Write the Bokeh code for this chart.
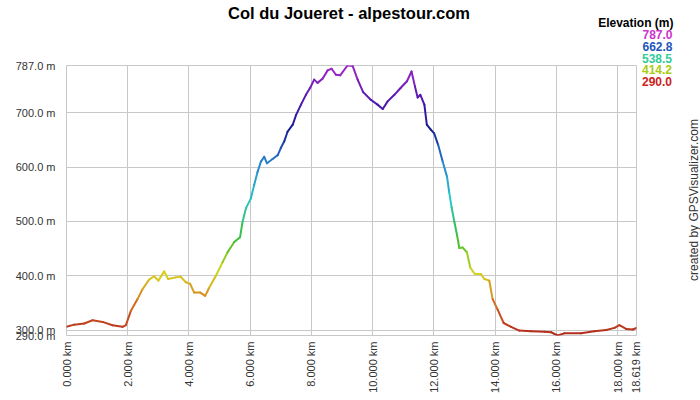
import numpy as np
from bokeh.plotting import figure
from bokeh.layouts import column, row
from bokeh.models import FixedTicker, Label, Range1d, Div
from bokeh.embed import file_html
from bokeh.resources import INLINE

# ---- data ----
distance_km = [0.00, 0.25, 0.58, 0.85, 1.18, 1.50, 1.83, 1.94, 2.10, 2.32,
               2.48, 2.70, 2.86, 3.00, 3.19, 3.32, 3.57, 3.73, 3.90, 4.04,
               4.17, 4.37, 4.53, 4.66, 4.88, 5.10, 5.26, 5.48, 5.67, 5.75,
               5.86, 6.02, 6.13, 6.24, 6.35, 6.46, 6.55, 6.73, 6.90, 7.00,
               7.11, 7.22, 7.39, 7.50, 7.66, 7.82, 7.96, 8.09, 8.20, 8.37,
               8.53, 8.66, 8.80, 8.94, 9.18, 9.35, 9.51, 9.69, 9.94, 10.16,
               10.33, 10.49, 10.71, 10.92, 11.12, 11.27, 11.38, 11.47, 11.56, 11.69,
               11.77, 11.90, 12.01, 12.14, 12.29, 12.43, 12.50, 12.58, 12.67, 12.76,
               12.83, 12.94, 13.08, 13.19, 13.34, 13.54, 13.65, 13.81, 13.92, 14.08,
               14.28, 14.52, 14.79, 15.17, 15.61, 15.83, 16.04, 16.26, 16.81, 17.24,
               17.63, 17.90, 18.06, 18.28, 18.50, 18.619]
elevation_m = [306, 310, 312, 318, 315, 309, 306, 309, 335, 357,
               375, 393, 399, 391, 408, 394, 397, 398, 388, 385,
               369, 369, 363, 378, 400, 425, 443, 462, 471, 499,
               524, 542, 567, 591, 610, 619, 607, 615, 622, 635,
               647, 665, 678, 696, 715, 733, 746, 761, 755, 763,
               778, 781, 770, 769, 787, 786, 761, 738, 724, 715,
               707, 721, 733, 746, 758, 776, 749, 728, 733, 715,
               678, 669, 662, 641, 610, 582, 554, 526, 499, 474,
               451, 452, 443, 415, 403, 403, 394, 391, 357, 338,
               313, 306, 299, 298, 297, 296, 290, 294, 294, 298,
               300, 304, 309, 302, 301, 304]

x_ticks = [0, 2, 4, 6, 8, 10, 12, 14, 16, 18, 18.619]
x_tick_labels = ["0.000 km", "2.000 km", "4.000 km", "6.000 km", "8.000 km",
                 "10.000 km", "12.000 km", "14.000 km", "16.000 km",
                 "18.000 km", "18.619 km"]
y_ticks = [290, 300, 400, 500, 600, 700, 787]
y_tick_labels = ["290.0 m", "300.0 m", "400.0 m", "500.0 m", "600.0 m",
                 "700.0 m", "787.0 m"]

title_text = "Col du Joueret - alpestour.com"
legend_title = "Elevation (m)"
legend_values = ["787.0", "662.8", "538.5", "414.2", "290.0"]
legend_colors = ["#cc33cc", "#2255bb", "#33cc99", "#aacc11", "#cc2222"]
credit_text = "created by GPSVisualizer.com"

# colour scale stops (style)
stop_elev = [290, 350, 405, 470, 540, 610, 670, 730, 787]
stop_rgb = [(178, 40, 30), (215, 110, 30), (215, 215, 30), (60, 190, 50),
            (40, 200, 200), (40, 130, 200), (25, 25, 150), (90, 25, 180),
            (165, 40, 200)]


def elev_color(e):
    r = np.interp(e, stop_elev, [c[0] for c in stop_rgb])
    g = np.interp(e, stop_elev, [c[1] for c in stop_rgb])
    b = np.interp(e, stop_elev, [c[2] for c in stop_rgb])
    return "#%02x%02x%02x" % (int(r), int(g), int(b))


x = np.array(distance_km)
y = np.array(elevation_m, dtype=float)
seg_colors = [elev_color((y[i] + y[i + 1]) / 2) for i in range(len(y) - 1)]

FONT = "Liberation Sans"
GRID = "#c8c8c8"
W, H = 700, 400
TOP_H = 53          # height of the top text strip
MAIN_W = 641        # width of the chart part
FRAME_L, FRAME_R, FRAME_T, FRAME_B = 66, 636, 65, 335

# ---------------- main chart ----------------
p = figure(width=MAIN_W, height=H - TOP_H, output_backend="svg",
           toolbar_location=None,
           x_range=Range1d(0, 18.619), y_range=Range1d(290, 787),
           min_border_left=FRAME_L, min_border_right=MAIN_W - FRAME_R,
           min_border_top=FRAME_T - TOP_H, min_border_bottom=H - FRAME_B)
p.background_fill_color = "white"
p.border_fill_color = "white"
p.outline_line_color = GRID

p.segment(x0=x[:-1], y0=y[:-1], x1=x[1:], y1=y[1:], line_color=seg_colors,
          line_width=2, line_cap="round")

p.xaxis.ticker = FixedTicker(ticks=x_ticks)
p.yaxis.ticker = FixedTicker(ticks=y_ticks)
p.xaxis.major_label_overrides = {t: l for t, l in zip(x_ticks, x_tick_labels)}
p.yaxis.major_label_overrides = {t: l for t, l in zip(y_ticks, y_tick_labels)}
p.xaxis.major_label_orientation = np.pi / 2
for ax in (p.xaxis, p.yaxis):
    ax.axis_line_color = None
    ax.major_tick_line_color = None
    ax.minor_tick_line_color = None
    ax.major_tick_out = 0
    ax.major_tick_in = 0
    ax.major_label_text_font = FONT
    ax.major_label_text_font_size = "11px"
    ax.major_label_text_color = "#333333"
p.xaxis.major_label_standoff = 6
p.yaxis.major_label_standoff = 11
p.xgrid.grid_line_color = GRID
p.ygrid.grid_line_color = GRID

# ---------------- top text strip (page pixel coordinates) ----------------
top = figure(width=W, height=TOP_H, output_backend="svg",
             toolbar_location=None, x_axis_location=None,
             y_axis_location=None, min_border=0,
             x_range=Range1d(0, W), y_range=Range1d(TOP_H, 0))
top.outline_line_color = None
top.background_fill_color = "white"
top.border_fill_color = "white"
top.xgrid.visible = False
top.ygrid.visible = False

legend_y = [34.3, 46.0, 58.8, 70.0, 81.7]
LEG_X = 672


def add_text(fig, **kw):
    fig.add_layout(Label(text_font=FONT, text_baseline="middle", **kw))


add_text(top, x=348.5, y=12, text=title_text, text_font_size="16.5px",
         text_font_style="bold", text_align="center", text_color="black")
add_text(top, x=673, y=22, text=legend_title, text_font_size="12px",
         text_font_style="bold", text_align="right", text_color="black")

# ---------------- right-hand side texts (HTML, positioned in page pixels) ----------------
SIDE_W, SIDE_H = W - MAIN_W, H - TOP_H
spans = []
for v, c, ly in zip(legend_values, legend_colors, legend_y):
    if ly < TOP_H:
        add_text(top, x=LEG_X, y=ly, text=v, text_font_size="12px",
                 text_font_style="bold", text_align="right", text_color=c)
    else:
        spans.append(
            f'<span style="position:absolute;left:{LEG_X - MAIN_W}px;'
            f'top:{ly - TOP_H}px;transform:translate(-100%,-50%);'
            f'white-space:nowrap;line-height:11px;height:11px;'
            f'font-family:\'{FONT}\';'
            f'font-size:12px;font-weight:bold;color:{c};">{v}</span>')
spans.append(
    f'<span style="position:absolute;left:{694 - MAIN_W}px;top:{200 - TOP_H}px;'
    f'transform:translate(-50%,-50%) rotate(-90deg);white-space:nowrap;'
    f'line-height:14px;font-family:\'{FONT}\';font-size:12px;color:#333333;">'
    f'{credit_text}</span>')
side_html = (f'<div style="position:relative;width:{SIDE_W}px;height:{SIDE_H}px;'
             f'margin:0;padding:0;background:white;">' + "".join(spans) + "</div>")
side = Div(text=side_html, width=SIDE_W, height=SIDE_H, margin=0)

layout = column(top, row(p, side))
open("out.html", "w").write(file_html(layout, INLINE))
